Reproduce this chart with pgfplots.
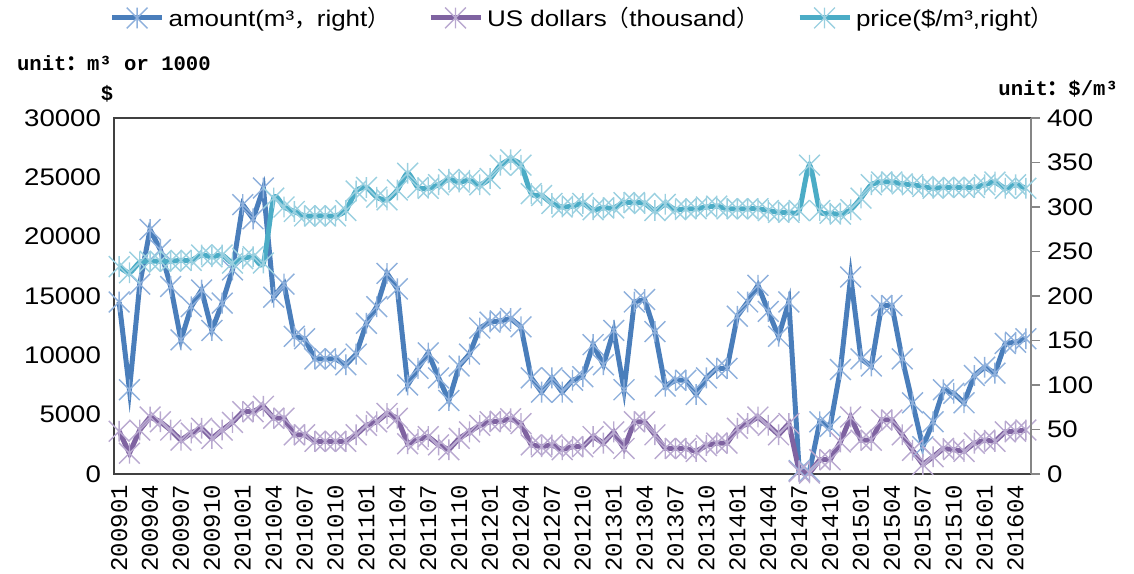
\documentclass[border=0pt]{standalone}
\usepackage{fontspec}
\setmainfont{Liberation Sans}[FakeStretch=1.15]
\newfontfamily\cjk{Noto Sans CJK SC}
\newfontfamily\mono{Liberation Mono}
\usepackage{pgfplots}
\usepackage{pgfplotstable}
\pgfplotsset{compat=1.18}

\definecolor{amtline}{HTML}{4A7EBB}
\definecolor{amtmark}{HTML}{8EB0DC}
\definecolor{usdline}{HTML}{7F63A1}
\definecolor{usdmark}{HTML}{B9A9D0}
\definecolor{prcline}{HTML}{4BACC6}
\definecolor{prcmark}{HTML}{9AD0E0}
\definecolor{frame}{HTML}{404040}
\definecolor{rframe}{HTML}{868686}

% excel-like star: an x with a vertical bar
\pgfdeclareplotmark{xstar}{%
  \pgfpathmoveto{\pgfqpoint{-\pgfplotmarksize}{-\pgfplotmarksize}}%
  \pgfpathlineto{\pgfqpoint{\pgfplotmarksize}{\pgfplotmarksize}}%
  \pgfpathmoveto{\pgfqpoint{-\pgfplotmarksize}{\pgfplotmarksize}}%
  \pgfpathlineto{\pgfqpoint{\pgfplotmarksize}{-\pgfplotmarksize}}%
  \pgfpathmoveto{\pgfqpoint{0pt}{-\pgfplotmarksize}}%
  \pgfpathlineto{\pgfqpoint{0pt}{\pgfplotmarksize}}%
  \pgfusepathqstroke}

\newcommand{\fw}[1]{{\cjk #1}}% full-width punctuation

\pgfplotsset{
  amt/.style={amtline, line width=2.5pt, mark=xstar, mark size=5.2pt,
    mark options={draw=amtmark, line width=0.7pt, solid}},
  usd/.style={usdline, line width=2.5pt, mark=xstar, mark size=5.2pt,
    mark options={draw=usdmark, line width=0.7pt, solid}},
  prc/.style={prcline, line width=2.5pt, mark=xstar, mark size=5.2pt,
    mark options={draw=prcmark, line width=0.7pt, solid}},
}

% month index (0 = 200901), amount, US dollars (thousand), price
\pgfplotstableread{
m amount usd price
0 14500 3600 233
1 7100 1750 226
2 16000 3700 238
3 20600 4800 239
4 18900 4400 239
5 15800 3700 239
6 11300 2850 240
7 14100 3450 240
8 15500 3850 246
9 12100 3000 244
10 14400 3700 246
11 17200 4350 237
12 22700 5250 242
13 21500 5250 244
14 24100 5700 237
15 14900 4700 310
16 16000 4700 300
17 11600 3300 295
18 11400 3300 290
19 9700 2750 290
20 9700 2750 290
21 9700 2750 290
22 9200 2750 296
23 10100 3300 318
24 12700 4100 322
25 14100 4400 311
26 16900 5100 308
27 15600 4700 319
28 7500 2550 338
29 8900 2900 322
30 10200 3150 321
31 8100 2450 325
32 6200 2050 331
33 9100 3000 328
34 10100 3550 330
35 12300 4100 325
36 12800 4400 332
37 12900 4450 347
38 13100 4650 353
39 12400 4250 347
40 8100 2450 315
41 6900 2300 313
42 8100 2450 304
43 6900 2050 300
44 7900 2300 301
45 8200 2300 304
46 10900 3150 297
47 9200 2600 299
48 12100 3550 299
49 7100 2150 305
50 14500 4400 305
51 14700 4400 304
52 12000 3300 296
53 7400 2150 303
54 7900 2150 297
55 7900 2150 298
56 6700 1900 298
57 8100 2400 300
58 8900 2600 301
59 8900 2600 298
60 13300 3850 298
61 14500 4250 298
62 15900 4800 298
63 13700 4100 296
64 11600 3300 294
65 14500 4250 294
66 300 200 296
67 200 80 347
68 4400 1200 296
69 4000 1200 293
70 8800 2700 292
71 16600 4800 297
72 9700 2850 310
73 9100 2850 325
74 14200 4550 328
75 14200 4550 328
76 9700 3300 326
77 6000 2000 325
78 2300 800 323
79 4400 1450 321
80 7100 2150 322
81 6800 2050 322
82 6000 1900 322
83 8300 2600 322
84 9000 2850 325
85 8500 2750 328
86 11000 3550 321
87 11100 3600 325
88 11400 3700 321
}\series

\begin{document}
\begin{tikzpicture}
\begin{axis}[
  scale only axis, width=458.5pt, height=178pt,
  xmin=-0.5, xmax=88.5, ymin=0, ymax=30000,
  clip=false,
  axis line style={frame, line width=0.7pt},
  xtick={0,3,...,87},
  xticklabels={200901,200904,200907,200910,201001,201004,201007,201010,
    201101,201104,201107,201110,201201,201204,201207,201210,
    201301,201304,201307,201310,201401,201404,201407,201410,
    201501,201504,201507,201510,201601,201604},
  x tick label style={rotate=90, anchor=east, font=\mono\fontsize{12}{12}\selectfont, xshift=-2pt},
  ytick={0,5000,...,30000},
  y tick label style={font=\fontsize{12}{12}\selectfont, xshift=-3pt},
  /pgf/number format/assume math mode=true,
  /pgf/number format/1000 sep={},
  scaled y ticks=false,
  tick style={draw=none},
]
\addplot[amt] table[x=m, y=amount] {\series};
\addplot[usd] table[x=m, y=usd] {\series};
\coordinate (BL) at (rel axis cs:0,0);
\coordinate (TR) at (rel axis cs:1,1);
\coordinate (TL) at (rel axis cs:0,1);
\end{axis}
\begin{axis}[
  scale only axis, width=458.5pt, height=178pt,
  xmin=-0.5, xmax=88.5, ymin=0, ymax=400,
  clip=false,
  axis x line=none, axis y line*=right,
  y axis line style={rframe, line width=0.7pt, -},
  ytick={0,50,...,400},
  ytick style={rframe, line width=0.7pt},
  tick align=outside, major tick length=4.5pt,
  y tick label style={font=\fontsize{12}{12}\selectfont},
  /pgf/number format/assume math mode=true,
  legend columns=3,
  legend style={at={(0.512,1.281)}, anchor=center, draw=none, fill=none,
    font=\fontsize{11.3}{13}\selectfont,
    /tikz/every even column/.append style={column sep=17pt}},
  legend image code/.code={\draw[mark repeat=2, mark phase=2]
    plot coordinates {(0pt,0pt) (12.5pt,0pt) (25pt,0pt)};},
]
\addlegendimage{amt}
\addlegendentry{amount(m³\fw{，}right\fw{）}}
\addlegendimage{usd}
\addlegendentry{US dollars\fw{（}thousand\fw{）}}
\addplot[prc, smooth, tension=0.4] table[x=m, y=price] {\series};
\addlegendentry{price(\$/m³,right\fw{）}}
\end{axis}
\node[anchor=base west, font=\mono\bfseries\fontsize{10.3}{12}\selectfont]
  at ([xshift=-52pt, yshift=23.5pt]TL) {unit\fw{：}m³ or 1000};
\node[anchor=base, font=\mono\bfseries\fontsize{10.3}{12}\selectfont]
  at ([xshift=-3.5pt, yshift=8.5pt]TL) {\$};
\node[anchor=base east, font=\mono\bfseries\fontsize{10.3}{12}\selectfont]
  at ([xshift=47pt, yshift=11pt]TR) {unit\fw{：}\$/m³};
\pgfresetboundingbox
\path[use as bounding box] ([xshift=-57pt, yshift=-50pt]BL) rectangle ([xshift=51.5pt, yshift=59pt]TR);
\end{tikzpicture}
\end{document}
